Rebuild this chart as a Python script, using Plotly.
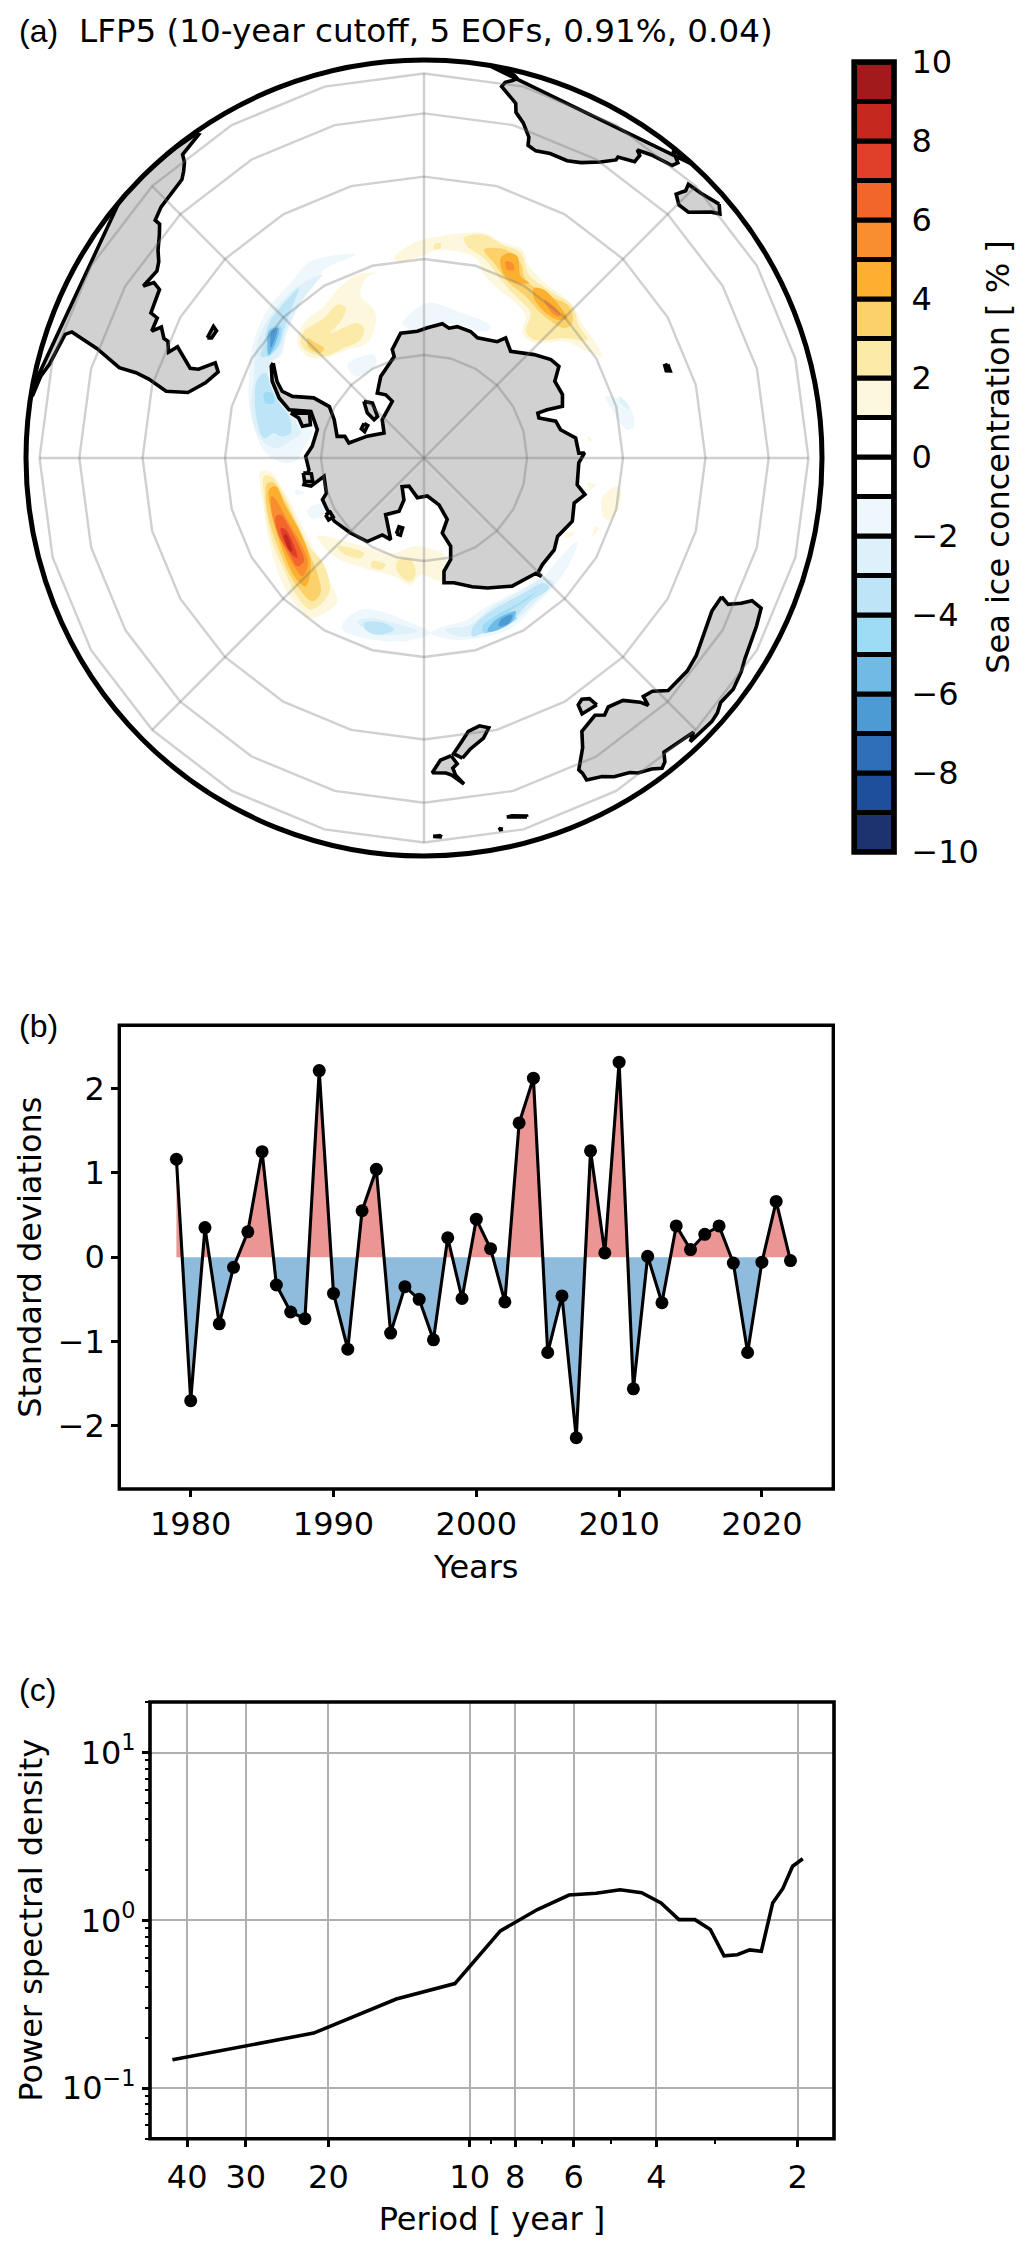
import math
import plotly.graph_objects as go

W, H = 1033, 2243

# ---------- panel (b) ----------
YEARS = list(range(1979, 2023))
PC_VALUES = [1.16, -1.70, 0.35, -0.79, -0.12, 0.30, 1.25, -0.33, -0.65, -0.73, 2.21, -0.43, -1.09, 0.55, 1.04,
             -0.90, -0.35, -0.50, -0.98, 0.23, -0.49, 0.45, 0.10, -0.53, 1.59, 2.12, -1.13, -0.46, -2.14, 1.26,
             0.05, 2.31, -1.56, 0.01, -0.54, 0.37, 0.09, 0.27, 0.37, -0.07, -1.13, -0.06, 0.66, -0.04]

# ---------- panel (c) ----------
SPEC_PERIODS = [43.0, 21.5, 14.33, 10.75, 8.6, 7.17, 6.14, 5.375, 4.78, 4.3, 3.91, 3.58, 3.31, 3.07, 2.87, 2.69,
                2.53, 2.39, 2.26, 2.15, 2.05, 1.95]
SPEC_POWER = [0.1475, 0.213, 0.340, 0.42, 0.865, 1.16, 1.415, 1.45, 1.52, 1.46, 1.27, 1.01, 1.01, 0.883, 0.614,
              0.624, 0.667, 0.654, 1.27, 1.55, 2.10, 2.33]
PERIOD_TICKS = [40, 30, 20, 10, 8, 6, 4, 2]
PERIOD_MINOR = [9, 7, 5, 3]
POWER_TICKS = [0.1, 1, 10]
POWER_LABELS = ["10<sup>\u22121</sup>", "10<sup>0</sup>", "10<sup>1</sup>"]
POWER_MINOR = [0.05, 0.06, 0.07, 0.08, 0.09, 0.2, 0.3, 0.4, 0.5, 0.6, 0.7, 0.8, 0.9, 2, 3, 4, 5, 6, 7, 8, 9, 20]

# ---------- colour bar ----------
BAND_LOWER = list(range(-10, 10))
BAND_COLORS = ["#1c3370", "#1d4f9c", "#2f6fba", "#4d9bd4", "#70bae6", "#9edcf6", "#bde5f7", "#def0f9", "#eef7fb",
               "#ffffff", "#ffffff", "#fdf7dd", "#fceaa8", "#fdd169", "#fdb030", "#f98e30", "#f2652b", "#e0402a",
               "#c5281f", "#a11a1c"]
CBAR_TICKS = list(range(-10, 11, 2))

# ---------- map graticule ----------
GRID_LATS = [-75, -60, -45, -30, -15]
GRID_MERIDIANS = [0, 45, 90, 135, 180, 225, 270, 315]
RING_LONS = list(range(0, 361, 15))

# ---------- coastlines (lon, lat) ----------
ANTARCTICA = [(-57.8, -63.4), (-62.5, -65.4), (-64.8, -66.8), (-64.9, -68.6), (-61.4, -71.6), (-61.5, -74.3),
              (-66.9, -75.8), (-76, -77), (-74.7, -78.1), (-78.7, -78.9), (-69, -81.2), (-58, -83.2), (-47.4, -81.8),
              (-29.2, -80.6), (-31.2, -79.3), (-35.7, -78.4), (-28, -76.6), (-16.4, -74.6), (-16.3, -73.5),
              (-10.6, -71.4), (-3, -71.4), (1.5, -70.9), (7.8, -70.1), (10.9, -70.6), (14.2, -70.1), (20.2, -70.2),
              (24, -70.7), (32.2, -69.8), (34.2, -68.6), (39.1, -69.8), (46.8, -67.7), (52.2, -66.2), (55.8, -65.8),
              (59.6, -67.6), (65.4, -67.5), (69.5, -68.2), (68.6, -70.6), (68.5, -72.1), (70.8, -72.2), (74.4, -69.9),
              (78.3, -69.5), (82.5, -67.4), (88.2, -67.1), (88.2, -66.2), (91.8, -67.1), (99.9, -67), (102.8, -65.5),
              (106.7, -66.8), (113.1, -66.1), (120.4, -67.1), (125.2, -66.4), (132, -66.4), (135.4, -66),
              (135.2, -65.2), (136, -66.2), (141.9, -66.8), (145.5, -67), (154, -68.7), (159.5, -69.8), (166.5, -71.2),
              (170.9, -71.5), (170, -73.2), (165.3, -74.7), (163.2, -76.6), (166.3, -78.8), (159.3, -80.5),
              (162.2, -82.9), (175, -84.5), (-170.5, -84.2), (-152.1, -85.4), (-142.6, -84.8), (-154.4, -83.3),
              (-154.9, -81.5), (-145.9, -80.1), (-157.8, -77.2), (-151.5, -77.3), (-145.8, -75.3), (-135.6, -74.7),
              (-125.1, -74), (-118.1, -74), (-112.3, -74), (-109.8, -74.9), (-100.4, -75.2), (-104, -73), (-102.5, -72),
              (-95.8, -73.1), (-89.2, -72.7), (-84, -73.6), (-75.1, -73.9), (-67.6, -72.1), (-70.3, -68.9),
              (-67.5, -66.8), (-63.2, -64.7), (-59, -63.4)]
ALEXANDER_I = [(-71.3, -69.3), (-68.6, -72), (-73.7, -72.7), (-75.4, -71.6), (-72.3, -70.7)]
BERKNER_I = [(-46.6, -78), (-43.2, -79.1), (-48.2, -81), (-52.5, -80.9), (-51.5, -79.5)]
KORFF_I = [(-60, -80), (-65, -80), (-66, -80.6), (-60, -80.6)]
ROOSEVELT_I = [(-160, -78.3), (-163, -78.3), (-163, -79.4), (-160, -79.4)]
THURSTON_I = [(-97, -72.2), (-101, -72.2), (-102, -73.4), (-98, -73.4)]
SIPLE_I = [(-120, -73.4), (-123, -73.4), (-123, -74.2), (-120, -74.2)]
SOUTH_AMERICA = [(-50, 0), (-48, -1), (-44, -2.5), (-41, -3), (-38.5, -3.7), (-35.2, -5.5), (-34.9, -8), (-37, -11),
                 (-38.5, -13), (-39, -17), (-40, -20), (-41, -22), (-43, -23), (-46.3, -24), (-48.5, -25.6),
                 (-48.5, -27.5), (-49.8, -29.5), (-52, -32), (-53.5, -34), (-55, -35), (-58.5, -34.2), (-57, -36),
                 (-57.5, -38), (-62, -39), (-62.3, -40.8), (-65, -41), (-63.5, -42.5), (-65.3, -44), (-65.5, -45),
                 (-67.5, -46), (-65.7, -47.2), (-67.5, -49.5), (-69, -51), (-68.5, -52.5), (-65.5, -54.8), (-67.3, -55.9),
                 (-71, -54.5), (-74.5, -52), (-75.5, -48), (-74, -44), (-73.5, -41), (-73.5, -37), (-71.5, -30),
                 (-70.3, -20), (-71, -17.5), (-76, -14), (-78, -10), (-81, -5), (-80, -2), (-80, 0)]
AFRICA = [(9.3, 0), (8.8, -1), (9.8, -2.5), (11.5, -4.5), (12.2, -6), (13.3, -9), (13.8, -11), (13.2, -13), (12.2, -15),
          (11.8, -17.5), (13.5, -21), (14.5, -23), (14.9, -26), (16.5, -28.6), (18.1, -32), (18.4, -34.1), (20, -34.8),
          (22.5, -34.1), (25.7, -34), (28, -32.8), (30.8, -30), (32.8, -27), (32.8, -25.9), (35.4, -24), (35.5, -21),
          (34.7, -19.7), (36.9, -17.8), (40.3, -15.5), (40.7, -12), (39.4, -8), (39, -6), (39.6, -4.2), (41.5, -1.8),
          (42.5, 0)]
MADAGASCAR = [(49.3, -12), (50.5, -15.5), (49.5, -18), (47.1, -24.9), (45.2, -25.5), (43.7, -23.5), (44.4, -20), (44, -17),
              (46.3, -15.7), (48, -13.5)]
AUSTRALIA = [(115, -34.4), (115.7, -32), (114.6, -28.8), (113.5, -26), (114, -22), (116.8, -20.6), (122, -18), (124, -16),
             (126.8, -14), (129.5, -15), (131, -12.4), (132.5, -11.3), (136.8, -12.2), (135.5, -15), (140.8, -17.5),
             (141.6, -13), (142.5, -10.7), (143.8, -14.4), (145.8, -16.9), (146.8, -19.2), (149.2, -21.2), (150.8, -23.5),
             (153.2, -25), (153.3, -27.5), (153.6, -29), (151.8, -33), (151.3, -33.9), (150, -37.5), (146.4, -39.1),
             (144.9, -37.9), (143.5, -38.9), (140.6, -38), (138.5, -35), (137.8, -33), (137.4, -35.5), (135.6, -34.9),
             (133.6, -32.1), (129, -31.7), (126, -32.3), (122, -33.9), (118, -35)]
TASMANIA = [(145, -40.8), (148.3, -40.9), (148, -43), (146.8, -43.6), (145.5, -42.8)]
NZ_SOUTH = [(172.7, -40.5), (174.3, -41.7), (172.8, -43.6), (170.8, -45.9), (168.3, -46.6), (166.5, -45.8), (168, -44), (171, -42.2)]
NZ_NORTH = [(174.8, -41.3), (176.9, -40.5), (178.5, -37.7), (176, -37.5), (174.9, -36.8), (173, -34.4), (174.3, -36.8), (174.7, -38.5), (173.8, -39.4)]
KERGUELEN = [(69, -49), (70.5, -49), (70.2, -49.7), (69, -49.6)]
FALKLANDS = [(-61, -51.5), (-58, -51.4), (-58.5, -52.3), (-60.5, -52.2)]
NEW_CALEDONIA = [(164, -20.2), (167, -22.2), (166.2, -22.2), (164, -20.6)]
VANUATU = [(168, -17.5), (168.6, -17.6), (168.4, -18), (168, -17.9)]
FIJI = [(177.3, -17.6), (178.6, -18), (177.6, -18.3)]
LAND = [ANTARCTICA, ALEXANDER_I, BERKNER_I, KORFF_I, ROOSEVELT_I, THURSTON_I, SIPLE_I, SOUTH_AMERICA, AFRICA, MADAGASCAR,
        AUSTRALIA, TASMANIA, NZ_SOUTH, NZ_NORTH, KERGUELEN, FALKLANDS, NEW_CALEDONIA, VANUATU, FIJI]

# ---------- sea-ice anomaly contours, read on a plane grid whose pole is at GRID_POLE and globe radius is GRID_R ----------
GRID_POLE = (670, 775)
GRID_R = 1194
A1 = [(580,175),(650,125),(720,110),(790,100),(850,100),(900,125),(965,150),(985,200),(1040,255),(1110,310),(1150,380),(1185,430),(1205,470),(1160,455),(1090,425),(1000,430),(965,400),(975,350),(945,310),(895,270),(850,225),(825,175),(720,150),(660,170),(600,185)]
A2 = [(790,115),(850,105),(905,135),(960,160),(985,225),(1050,275),(1115,320),(1135,380),(1160,420),(1090,415),(1000,420),(975,395),(990,340),(945,290),(900,240),(855,180),(800,140)]
A3 = [(850,150),(915,150),(960,190),(975,240),(1040,285),(1105,320),(1115,370),(1090,385),(1020,340),(975,290),(925,250),(880,190)]
A4a = [(900,175),(925,160),(950,170),(960,230),(985,250),(950,250),(910,225)]
A4b = [(1000,265),(1030,270),(1085,330),(1100,355),(1070,360),(1025,330),(1000,295)]
A5a = [(915,185),(935,190),(940,210),(920,210)]
A5b = [(1030,300),(1060,320),(1080,350),(1060,345)]
A2c = [(700,135),(720,130),(720,145),(700,148)]
B1 = [(180,815),(205,815),(245,865),(280,930),(320,1010),(360,1090),(395,1160),(410,1205),(395,1225),(330,1255),(285,1215),(245,1150),(220,1080),(200,1000),(190,930),(178,860)]
B2 = [(190,830),(210,830),(250,885),(290,970),(325,1040),(370,1095),(385,1180),(330,1230),(290,1190),(250,1110),(220,1040),(200,960),(190,890)]
B3 = [(200,850),(220,850),(250,900),(290,980),(325,1060),(350,1120),(360,1180),(335,1205),(305,1180),(270,1130),(235,1050),(205,960),(195,890)]
B4 = [(205,870),(225,860),(255,920),(300,1000),(330,1090),(315,1160),(285,1135),(245,1050),(215,950)]
B5 = [(212,890),(222,895),(260,960),(300,1030),(322,1090),(305,1130),(280,1100),(240,1020),(215,950)]
B6 = [(225,950),(240,945),(270,990),(300,1050),(310,1085),(290,1100),(265,1060),(235,1010)]
B7 = [(240,985),(255,990),(285,1050),(290,1075),(275,1065),(250,1025)]
B8 = [(250,1005),(258,1005),(275,1055),(268,1055)]
C1 = [(525,220),(495,235),(480,290),(520,330),(525,370),(500,430),(440,450),(370,475),(320,470),(290,430),(310,370),(370,320),(415,265),(470,225)]
C2 = [(310,395),(370,355),(410,315),(435,325),(420,365),(390,400),(470,370),(490,385),(480,420),(430,445),(370,470),(320,455),(300,430)]
C3 = [(320,415),(345,430),(370,445),(360,460),(325,445)]
D1 = [(350,1010),(400,1015),(470,1035),(580,1060),(640,1040),(700,1050),(735,1070),(725,1145),(660,1125),(630,1155),(580,1130),(490,1105),(400,1070)]
D2a = [(410,1040),(490,1060),(480,1075),(425,1060)]
D2b = [(515,1085),(555,1095),(540,1110),(510,1100)]
D2c = [(590,1085),(630,1080),(645,1125),(625,1145),(590,1115)]
E1 = [(465,165),(330,185),(270,250),(200,330),(155,440),(145,530),(145,610),(165,700),(195,760),(250,790),(290,780),(310,740),(335,700),(320,680),(300,650),(265,635),(240,600),(215,560),(205,490),(240,470),(260,400),(300,310),(345,250),(370,210)]
E2 = [(365,225),(300,255),(230,320),(190,380),(165,450),(160,540),(150,620),(175,710),(220,745),(275,720),(300,700),(265,640),(240,610),(212,560),(205,500),(240,460),(255,400),(300,310),(345,250)]
E3a = [(295,265),(250,310),(205,370),(190,430),(180,470),(200,470),(235,440),(250,390),(275,320)]
E3b = [(170,540),(165,640),(190,715),(220,700),(240,710),(270,700),(265,650),(235,610),(210,560),(195,520)]
E4a = [(190,580),(215,580),(220,610),(195,610)]
E4b = [(210,385),(240,380),(235,430),(210,465),(200,470),(200,420)]
E5 = [(205,395),(235,385),(225,430),(205,465)]
E6 = [(213,395),(230,385),(222,420),(210,445)]
F1 = [(1130,1025),(1110,1085),(1060,1160),(1000,1220),(940,1280),(860,1310),(760,1320),(690,1300),(730,1280),(800,1260),(860,1220),(960,1170),(1030,1130),(1080,1070)]
F2 = [(1060,1150),(1010,1200),(930,1270),(830,1305),(770,1310),(735,1290),(810,1275),(870,1225),(960,1175),(1030,1135)]
F3 = [(1045,1165),(990,1205),(930,1265),(860,1295),(815,1310),(815,1285),(870,1235),(960,1185),(1030,1150)]
F4 = [(1010,1175),(980,1200),(925,1240),(950,1255),(850,1300),(845,1280),(890,1245),(955,1210)]
F5 = [(945,1235),(935,1265),(880,1295),(860,1295),(880,1265),(925,1240)]
F6 = [(935,1245),(925,1270),(895,1280),(900,1260)]
G1 = [(430,1265),(480,1230),(540,1235),(620,1265),(690,1300),(640,1320),(560,1325),(470,1310),(425,1290)]
G2 = [(470,1265),(500,1255),(560,1265),(650,1295),(590,1305),(510,1300)]
G3 = [(490,1270),(550,1270),(580,1290),(530,1305),(495,1290)]
H1 = [(1215,590),(1280,610),(1300,680),(1280,690),(1240,640)]
H2 = [(1255,590),(1285,620),(1285,630),(1260,610)]
I1 = [(610,360),(680,310),(770,335),(870,380),(860,395),(740,370),(640,395),(605,370)]
J1 = [(440,495),(520,465),(525,500),(465,530)]
K1 = [(1205,895),(1250,860),(1262,890),(1230,960),(1210,955)]
K2 = [(1160,850),(1185,855),(1170,870)]
K3 = [(1160,710),(1175,720),(1165,725)]
K4 = [(1090,1000),(1120,1000),(1100,1015)]
K5 = [(1185,980),(1195,985),(1175,1010)]
L1 = [(320,930),(370,910),(365,950),(330,955)]
L2 = [(285,870),(310,880),(285,885)]
ICE_CONTOURS = [(1,A1),(1,B1),(1,C1),(1,D1),(1,K1),(1,K2),(1,K3),(1,K4),(1,K5),(-2,E1),(-2,F1),(-2,G1),(-2,H1),(-2,I1),(-2,J1),(-2,L1),(-2,L2),
                (2,A2),(2,A2c),(2,B2),(2,C2),(2,D2a),(2,D2b),(2,D2c),(-3,E2),(-3,F2),(-3,G2),(-3,H2),
                (3,A3),(3,B3),(3,C3),(-4,E3a),(-4,E3b),(-4,F3),(-4,G3),
                (4,A4a),(4,A4b),(4,B4),(-5,E4a),(-5,E4b),(-5,F4),
                (5,A5a),(5,A5b),(5,B5),(-6,E5),(-6,F5),
                (6,B6),(-7,E6),(-7,F6),(7,B7),(8,B8)]

FONT = "DejaVu Sans"
FS = 32
BLACK = "#000000"


def px_x(p):
    return p / W


def px_y(p):
    return 1 - p / H


def ortho(lon, lat):
    lam, phi = math.radians(lon), math.radians(lat)
    return math.cos(phi) * math.sin(lam), math.cos(phi) * math.cos(lam)


def sign_fill(xs, ys, sign):
    out_x, out_y = [], []
    for i, (x, y) in enumerate(zip(xs, ys)):
        if i and (ys[i - 1] > 0) != (y > 0):
            out_x.append(xs[i - 1] + (x - xs[i - 1]) * ys[i - 1] / (ys[i - 1] - y))
            out_y.append(0)
        out_x.append(x)
        out_y.append(max(y * sign, 0) * sign)
    return out_x, out_y


fig = go.Figure()
MAP_CX, MAP_CY, MAP_R = 424, 458, 398
MAP_PAD = 402
for lvl, poly in sorted(ICE_CONTOURS, key=lambda c: abs(c[0])):
    col = BAND_COLORS[BAND_LOWER.index(lvl)]
    fig.add_trace(go.Scatter(x=[(p[0] - GRID_POLE[0]) / GRID_R for p in poly] + [(poly[0][0] - GRID_POLE[0]) / GRID_R],
                             y=[(GRID_POLE[1] - p[1]) / GRID_R for p in poly] + [(GRID_POLE[1] - poly[0][1]) / GRID_R],
                             mode="lines", fill="toself", fillcolor=col, line=dict(width=0, shape="spline", smoothing=1.0, color=col),
                             hoverinfo="skip", showlegend=False, xaxis="x", yaxis="y"))
for poly in LAND:
    pts = [ortho(*p) for p in poly] + [ortho(*poly[0])]
    fig.add_trace(go.Scatter(x=[p[0] for p in pts], y=[p[1] for p in pts], mode="lines", fill="toself", fillcolor="#d1d1d1",
                             line=dict(color=BLACK, width=3.6), hoverinfo="skip", showlegend=False, xaxis="x", yaxis="y"))
GRID_COL = "rgba(110,110,110,0.32)"
for lat in GRID_LATS:
    pts = [ortho(l, lat) for l in RING_LONS]
    fig.add_trace(go.Scatter(x=[p[0] for p in pts], y=[p[1] for p in pts], mode="lines", line=dict(color=GRID_COL, width=2.4),
                             hoverinfo="skip", showlegend=False, xaxis="x", yaxis="y"))
for lon in GRID_MERIDIANS:
    pts = [ortho(lon, -90), ortho(lon, GRID_LATS[-1])]
    fig.add_trace(go.Scatter(x=[p[0] for p in pts], y=[p[1] for p in pts], mode="lines", line=dict(color=GRID_COL, width=2.4),
                             hoverinfo="skip", showlegend=False, xaxis="x", yaxis="y"))

fig.add_trace(go.Bar(x=[0] * len(BAND_LOWER), y=[1] * len(BAND_LOWER), base=BAND_LOWER, width=1,
                     marker=dict(color=BAND_COLORS, line=dict(color=BLACK, width=5)), hoverinfo="skip", showlegend=False,
                     xaxis="x4", yaxis="y4"))

for sign, col in ((1, "#ec9595"), (-1, "#8fbcdd")):
    fx, fy = sign_fill(YEARS, PC_VALUES, sign)
    fig.add_trace(go.Scatter(x=fx, y=fy, mode="none", fill="tozeroy", fillcolor=col, hoverinfo="skip", showlegend=False,
                             xaxis="x2", yaxis="y2"))
fig.add_trace(go.Scatter(x=YEARS, y=PC_VALUES, mode="lines+markers", line=dict(color=BLACK, width=3.1),
                         marker=dict(color=BLACK, size=13), showlegend=False, xaxis="x2", yaxis="y2"))

fig.add_trace(go.Scatter(x=SPEC_PERIODS, y=SPEC_POWER, mode="lines", line=dict(color=BLACK, width=3.6), showlegend=False,
                         xaxis="x3", yaxis="y3"))

font = dict(family=FONT, size=FS, color=BLACK)
common_ticks = dict(ticks="outside", ticklen=7, tickwidth=3, tickcolor=BLACK, tickfont=font, showline=False, zeroline=False,
                    showgrid=False, automargin=False)
layout = dict(
    template="none",
    width=W, height=H, autosize=False, margin=dict(l=0, r=0, t=0, b=0, pad=0), paper_bgcolor="white", plot_bgcolor="white",
    font=font, showlegend=False, barmode="overlay", hovermode=False,
    title=dict(text="LFP5 (10-year cutoff, 5 EOFs, 0.91%, 0.04)", x=px_x(79), xanchor="left", xref="paper", y=px_y(31),
               yref="paper", yanchor="middle", font=dict(family=FONT, size=32.6, color=BLACK), pad=dict(t=0, b=0, l=0, r=0), automargin=False),
    xaxis=dict(domain=[px_x(MAP_CX - MAP_PAD), px_x(MAP_CX + MAP_PAD)], range=[-MAP_PAD / MAP_R, MAP_PAD / MAP_R], visible=False, automargin=False),
    yaxis=dict(domain=[px_y(MAP_CY + MAP_PAD), px_y(MAP_CY - MAP_PAD)], range=[-MAP_PAD / MAP_R, MAP_PAD / MAP_R], visible=False, automargin=False),
    xaxis2=dict(domain=[px_x(119.3), px_x(833.3)], range=[1975, 2025], anchor="y2", tickvals=[1980, 1990, 2000, 2010, 2020],
                title=dict(text="Years", font=font, standoff=13), **common_ticks),
    yaxis2=dict(domain=[px_y(1489), px_y(1025.3)], range=[-2.747, 2.747], anchor="x2", tickvals=[-2, -1, 0, 1, 2],
                title=dict(text="Standard deviations", font=font, standoff=6), **common_ticks),
    xaxis3=dict(domain=[px_x(150), px_x(834)], type="log", range=[math.log10(48), math.log10(1.673)], anchor="y3",
                tickmode="array", tickvals=PERIOD_TICKS, ticktext=[str(t) for t in PERIOD_TICKS], ticklabelstandoff=3,
                minor=dict(tickmode="array", tickvals=PERIOD_MINOR, ticks="outside", ticklen=4, tickwidth=2, tickcolor=BLACK, showgrid=False),
                title=dict(text="Period [ year ]", font=font, standoff=12),
                **{**common_ticks, "showgrid": True}, gridcolor="#b0b0b0", gridwidth=2),
    yaxis3=dict(domain=[px_y(2138.7), px_y(1702)], type="log", range=[math.log10(0.05), math.log10(20)], anchor="x3",
                tickmode="array", tickvals=POWER_TICKS, ticktext=POWER_LABELS,
                minor=dict(tickmode="array", tickvals=POWER_MINOR, ticks="outside", ticklen=4, tickwidth=2, tickcolor=BLACK, showgrid=False),
                title=dict(text="Power spectral density", font=font, standoff=9),
                **{**common_ticks, "showgrid": True}, gridcolor="#b0b0b0", gridwidth=2),
    xaxis4=dict(domain=[px_x(854.2), px_x(894)], range=[-0.5, 0.5], anchor="y4", visible=False, automargin=False),
    yaxis4=dict(domain=[px_y(852), px_y(62)], range=[-10, 10], anchor="x4", side="right", tickvals=CBAR_TICKS, ticks="outside",
                ticklen=10, tickwidth=1, tickcolor="rgba(0,0,0,0)", tickfont=font, showgrid=False, zeroline=False, showline=False, automargin=False,
                title=dict(text="Sea ice concentration [ % ]", font=font, standoff=8)),
    shapes=[
        dict(type="circle", xref="x", yref="y", x0=-1, x1=1, y0=-1, y1=1, line=dict(color=BLACK, width=5), layer="above"),
        dict(type="rect", xref="x2 domain", yref="y2 domain", x0=0, x1=1, y0=0, y1=1, line=dict(color=BLACK, width=3.4), layer="above"),
        dict(type="rect", xref="x3 domain", yref="y3 domain", x0=0, x1=1, y0=0, y1=1, line=dict(color=BLACK, width=3.6), layer="above"),
        dict(type="rect", xref="x4 domain", yref="y4 domain", x0=0, x1=1, y0=0, y1=1, line=dict(color=BLACK, width=5.7), layer="above"),
    ],
    annotations=[
        dict(text=t, x=px_x(17), y=px_y(yy), xref="paper", yref="paper", xanchor="left", yanchor="middle", showarrow=False,
             font=dict(family="Liberation Sans", size=32, color=BLACK))
        for t, yy in (("(a)", 31), ("(b)", 1026), ("(c)", 1690))
    ],
)
fig.update_layout(**layout)
fig.write_html("out.html", config=dict(displayModeBar=False, staticPlot=True),
               post_script="document.body.style.margin='0';document.body.style.padding='0';document.body.style.overflow='hidden';")
